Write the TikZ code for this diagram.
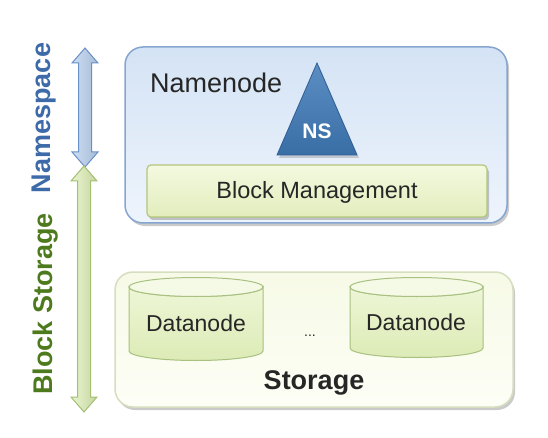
\documentclass[tikz,border=0pt]{standalone}
\usepackage{fontspec}
\setmainfont{Liberation Sans}
\usetikzlibrary{shadows,calc}
\definecolor{nnborder}{HTML}{86A6D0}
\definecolor{nntop}{HTML}{D4E3F5}
\definecolor{nnbot}{HTML}{EEF4FC}
\definecolor{bmtop}{HTML}{F4F9E0}
\definecolor{bmbot}{HTML}{E2EDBC}
\definecolor{bmborder}{HTML}{B4C47C}
\definecolor{tri}{HTML}{3F7AB8}
\definecolor{tridark}{HTML}{2E5F96}
\definecolor{bluearrow}{HTML}{B8D0EE}
\definecolor{bluearrowd}{HTML}{6A90C8}
\definecolor{greenarrow}{HTML}{DCEDB2}
\definecolor{greenarrowd}{HTML}{A2C070}
\definecolor{nstext}{HTML}{3D6AA8}
\definecolor{bstext}{HTML}{4E7A1E}
\definecolor{sttop}{HTML}{F6FAE6}
\definecolor{stbot}{HTML}{FDFEF6}
\definecolor{stborder}{HTML}{D6DEC0}
\definecolor{cyltop}{HTML}{EEF6D6}
\definecolor{cylbot}{HTML}{DCEBB6}
\definecolor{cylborder}{HTML}{A8C080}
\definecolor{txt}{HTML}{262626}
\tikzset{
  bigbox/.style={rounded corners=18pt, line width=1.5pt, minimum width=#1},
  shad/.style={drop shadow={shadow xshift=2pt, shadow yshift=-3pt, opacity=0.35, fill=black!60}},
  lbl/.style={text=txt, inner sep=0pt},
  sidelbl/.style={font=\fontsize{27}{30}\selectfont\bfseries, rotate=90, inner sep=0pt},
  cylstyle/.style={draw=cylborder, line width=1pt, top color=cyltop, bottom color=cylbot},
}
\begin{document}
\begin{tikzpicture}[x=1pt,y=-1pt]
\useasboundingbox (0,0) rectangle (548,438);
% Namenode box
\node[bigbox=382pt, minimum height=176pt, draw=nnborder, top color=nntop, bottom color=nnbot, shad] (nn) at (316,135) {};
\node[lbl, anchor=base west, font=\fontsize{27}{30}\selectfont] (nnlbl) at (150,93) {Namenode};
% Triangle NS
\coordinate (tA) at (317,63);
\coordinate (tB) at (277,155);
\coordinate (tC) at (357,155);
\fill[black!50, opacity=0.35] ($(tA)+(2,3)$) -- ($(tB)+(2,3)$) -- ($(tC)+(2,3)$) -- cycle;
\draw[draw=tridark, line width=0.8pt, top color=tri!85!white, bottom color=tri!90!black] (tA) -- (tB) -- (tC) -- cycle;
\node[text=white, font=\fontsize{21}{24}\selectfont\bfseries, inner sep=0pt] (ns) at (317,131) {NS};
% Block Management
\node[rounded corners=4pt, draw=bmborder, line width=1.2pt, top color=bmtop, bottom color=bmbot, minimum width=340pt, minimum height=52pt, shad] (bm) at (317,191) {};
\node[lbl, font=\fontsize{23.5}{26}\selectfont] (bmlbl) at (317,192) {Block Management};
% Storage box
\node[bigbox=398pt, minimum height=135pt, draw=stborder, top color=sttop, bottom color=stbot, shad] (st) at (314,339.5) {};
% Cylinders
\draw[cylstyle] (129,287) -- (129,351) arc[start angle=180, end angle=360, x radius=67pt, y radius=9.5pt] -- (263,287) arc[start angle=0, end angle=-180, x radius=67pt, y radius=9.5pt] -- cycle;
\draw[draw=cylborder, line width=1pt, fill=cyltop!60!white] (196,287) ellipse[x radius=67pt, y radius=9.5pt];
\node[lbl, font=\fontsize{23}{26}\selectfont] (dn1) at (196,323) {Datanode};
\draw[cylstyle] (350,287) -- (350,348) arc[start angle=180, end angle=360, x radius=66.5pt, y radius=9.5pt] -- (483,287) arc[start angle=0, end angle=-180, x radius=66.5pt, y radius=9.5pt] -- cycle;
\draw[draw=cylborder, line width=1pt, fill=cyltop!60!white] (416.5,287) ellipse[x radius=66.5pt, y radius=9.5pt];
\node[lbl, font=\fontsize{23}{26}\selectfont] (dn2) at (416,322) {Datanode};
\node[lbl, font=\fontsize{14}{16}\selectfont] (dots) at (310,336) {...};
\node[lbl, font=\fontsize{27}{30}\selectfont\bfseries] (stlbl) at (314,383) {Storage};
% Side arrows
\draw[draw=bluearrowd, line width=1pt, left color=bluearrow!70!white, right color=bluearrow!90!black]
  (85,48) -- (98,63) -- (91.5,63) -- (91.5,152) -- (98,152) -- (85,167) -- (72,152) -- (78.5,152) -- (78.5,63) -- (72,63) -- cycle;
\draw[draw=greenarrowd, line width=1pt, left color=greenarrow!60!white, right color=greenarrow!90!black]
  (84,166) -- (97,181) -- (90.5,181) -- (90.5,397) -- (97,397) -- (84,412) -- (71,397) -- (77.5,397) -- (77.5,181) -- (71,181) -- cycle;
\node[sidelbl, text=nstext] (nslbl) at (44,118) {Namespace};
\node[sidelbl, text=bstext] (bslbl) at (46,304) {Block Storage};
\end{tikzpicture}
\end{document}
